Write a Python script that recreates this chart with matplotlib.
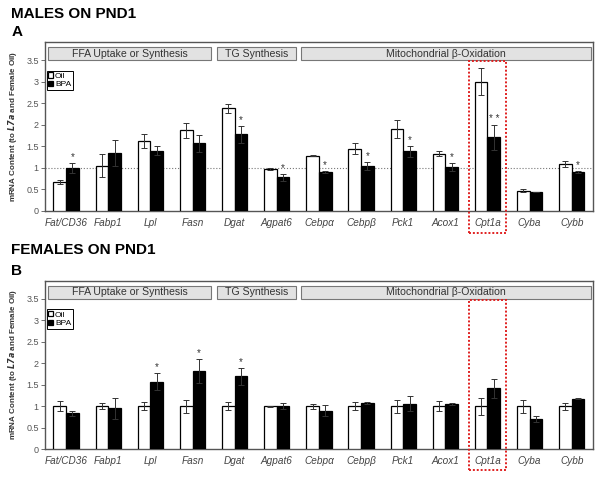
#!/usr/bin/env python3
"""Hepatic mRNA content in males and females on PND1 (Oil vs BPA)."""

import matplotlib
matplotlib.use("Agg")
import matplotlib.pyplot as plt
import numpy as np
from matplotlib.patches import Rectangle

plt.rcParams['font.family'] = ['Liberation Sans', 'DejaVu Sans']

genes = ["Fat/CD36", "Fabp1", "Lpl", "Fasn", "Dgat", "Agpat6", "Cebpα",
         "Cebpβ", "Pck1", "Acox1", "Cpt1a", "Cyba", "Cybb"]
groups = [("FFA Uptake or Synthesis", 0, 3),
          ("TG Synthesis", 4, 5),
          ("Mitochondrial β-Oxidation", 6, 12)]
highlight = "Cpt1a"

male_oil = [0.68, 1.05, 1.62, 1.87, 2.38, 0.97, 1.28, 1.44, 1.90, 1.33, 3.00, 0.47, 1.09]
male_oil_err = [0.05, 0.27, 0.17, 0.18, 0.10, 0.02, 0.01, 0.13, 0.20, 0.05, 0.32, 0.03, 0.06]
male_bpa = [1.00, 1.35, 1.40, 1.57, 1.78, 0.78, 0.91, 1.04, 1.38, 1.02, 1.71, 0.45, 0.91]
male_bpa_err = [0.12, 0.30, 0.10, 0.20, 0.20, 0.08, 0.02, 0.10, 0.13, 0.10, 0.29, 0.00, 0.02]
male_sig = ["*", "", "", "", "*", "*", "*", "*", "*", "*", "**", "", "*"]

female_oil = [1.0] * 13
female_oil_err = [0.12, 0.07, 0.10, 0.15, 0.10, 0.01, 0.06, 0.10, 0.15, 0.12, 0.20, 0.15, 0.08]
female_bpa = [0.83, 0.95, 1.57, 1.82, 1.70, 1.00, 0.89, 1.08, 1.06, 1.05, 1.42, 0.70, 1.17]
female_bpa_err = [0.05, 0.25, 0.20, 0.28, 0.20, 0.07, 0.13, 0.02, 0.17, 0.02, 0.22, 0.06, 0.01]
female_sig = ["", "", "*", "*", "*", "", "", "", "", "", "", "", ""]

yticks = [0, 0.5, 1, 1.5, 2, 2.5, 3, 3.5]


def draw_panel(ax, oil, oil_err, bpa, bpa_err, sig, ref_line):
    x = np.arange(len(genes))
    w = 0.3
    err_kw = dict(ecolor="#333333", elinewidth=0.7, capsize=2.5, capthick=0.7)
    ax.bar(x - w / 2, oil, w, yerr=oil_err, color="white", edgecolor="black",
           linewidth=0.9, label="Oil", error_kw=err_kw, zorder=3)
    ax.bar(x + w / 2, bpa, w, yerr=bpa_err, color="black", edgecolor="black",
           linewidth=0.9, label="BPA", error_kw=err_kw, zorder=3)

    for xi, top, s in zip(x, np.array(bpa) + np.array(bpa_err), sig):
        if s:
            ax.text(xi + w / 2, top + 0.02, " ".join(s), ha="center", va="bottom",
                    fontsize=7, color="#333333")

    if ref_line:
        ax.axhline(1.0, color="#777777", linestyle=":", linewidth=0.8, zorder=1)

    # group header boxes
    for label, first, last in groups:
        left = first - 0.43
        right = last + 0.45
        ax.add_patch(Rectangle((left, 3.5), right - left, 0.3, facecolor="#e2e2e2",
                               edgecolor="#777777", linewidth=0.8, zorder=2))
        ax.text((left + right) / 2, 3.65, label, ha="center", va="center",
                fontsize=7.6, color="#333333")

    # dotted highlight around Cpt1a
    hi = genes.index(highlight)
    ax.add_patch(Rectangle((hi - 0.43, -0.5), 0.86, 3.98, fill=False,
                           edgecolor="#e02020", linestyle=(0, (1, 1)),
                           linewidth=1.4, clip_on=False, zorder=4))

    ax.set_xlim(-0.5, 12.5)
    ax.set_ylim(0, 3.92)
    ax.set_xticks(x)
    ax.set_xticklabels(genes, fontstyle="italic", fontsize=7.2, color="#444444")
    ax.tick_params(axis="x", length=0, pad=5)
    ax.set_yticks(yticks)
    ax.set_yticklabels([f"{t:g}" for t in yticks], fontsize=6.5, color="#555555")
    ax.tick_params(axis="y", length=3, width=0.6, color="#555555",
                   direction="out", pad=1.5)
    for spine in ax.spines.values():
        spine.set_color("#555555")
        spine.set_linewidth(1.0)
    ax.set_ylabel(r"mRNA Content (to $\mathbfit{L7a}$ and Female Oil)",
                  fontsize=5.8, fontweight="bold", color="#333333", labelpad=5)
    leg = ax.legend(loc="upper left", bbox_to_anchor=(0.003, 0.83), fontsize=6,
                    handlelength=0.6, handleheight=0.6, handletextpad=0.2,
                    borderpad=0.2, labelspacing=0.1, fancybox=False,
                    framealpha=1, edgecolor="black", borderaxespad=0)
    leg.get_frame().set_linewidth(0.7)


fig = plt.figure(figsize=(6.02, 4.79), dpi=100)
ax_a = fig.add_axes([0.0748, 0.5595, 0.910, 0.353])
ax_b = fig.add_axes([0.0748, 0.0626, 0.910, 0.351])

draw_panel(ax_a, male_oil, male_oil_err, male_bpa, male_bpa_err, male_sig, True)
draw_panel(ax_b, female_oil, female_oil_err, female_bpa, female_bpa_err, female_sig, False)

fig.text(0.019, 0.970, "MALES ON PND1", fontsize=11, fontweight="bold", va="center")
fig.text(0.019, 0.934, "A", fontsize=11, fontweight="bold", va="center")
fig.text(0.019, 0.478, "FEMALES ON PND1", fontsize=11, fontweight="bold", va="center")
fig.text(0.019, 0.435, "B", fontsize=11, fontweight="bold", va="center")

fig.savefig("out.png", dpi=100)
